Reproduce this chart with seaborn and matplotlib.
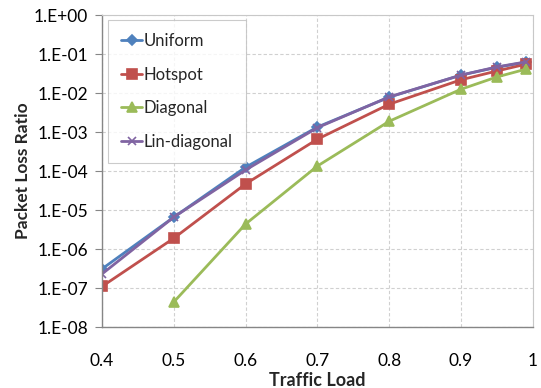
import numpy as np
import pandas as pd
import matplotlib
matplotlib.use("Agg")
import matplotlib.pyplot as plt
from matplotlib.ticker import FuncFormatter, FixedLocator, NullLocator
import seaborn as sns

# ---- data ----
loads = [0.4, 0.5, 0.6, 0.7, 0.8, 0.9, 0.95, 0.99]
uniform = [3.1e-7, 6.6e-6, 1.26e-4, 1.35e-3, 7.9e-3, 2.9e-2, 4.6e-2, 6.2e-2]
hotspot = [1.1e-7, 1.9e-6, 4.7e-5, 6.6e-4, 5.2e-3, 2.2e-2, 3.7e-2, 5.5e-2]
diag_loads = [0.5, 0.6, 0.7, 0.8, 0.9, 0.95, 0.99]
diagonal = [4.4e-8, 4.4e-6, 1.35e-4, 1.9e-3, 1.26e-2, 2.6e-2, 4.1e-2]
lin_diagonal = [2.3e-7, 6.6e-6, 1.07e-4, 1.3e-3, 8.0e-3, 2.9e-2, 4.7e-2, 6.3e-2]

series_names = ["Uniform", "Hotspot", "Diagonal", "Lin-diagonal"]
x_ticks = [0.4, 0.5, 0.6, 0.7, 0.8, 0.9, 1.0]
x_tick_labels = ["0.4", "0.5", "0.6", "0.7", "0.8", "0.9", "1"]
y_ticks = [1e0, 1e-1, 1e-2, 1e-3, 1e-4, 1e-5, 1e-6, 1e-7, 1e-8]

df = pd.concat([
    pd.DataFrame({"load": loads, "ratio": uniform, "series": "Uniform"}),
    pd.DataFrame({"load": loads, "ratio": hotspot, "series": "Hotspot"}),
    pd.DataFrame({"load": diag_loads, "ratio": diagonal, "series": "Diagonal"}),
    pd.DataFrame({"load": loads, "ratio": lin_diagonal, "series": "Lin-diagonal"}),
], ignore_index=True)

sns.set_theme(style="white")
plt.rcParams["font.family"] = ["Lato", "DejaVu Sans"]

palette = {"Uniform": "#4F81BD", "Hotspot": "#C0504D",
           "Diagonal": "#9BBB59", "Lin-diagonal": "#8064A2"}
markers = {"Uniform": "D", "Hotspot": "s", "Diagonal": "^", "Lin-diagonal": "x"}
msizes = {"Uniform": 5, "Hotspot": 6.5, "Diagonal": 6.5, "Lin-diagonal": 6}

fig = plt.figure(figsize=(5.41, 3.88), dpi=100)
ax = fig.add_axes([0.1885, 0.157, 0.7965, 0.804])

for name in series_names:
    sub = df[df["series"] == name]
    sns.lineplot(data=sub, x="load", y="ratio", ax=ax, color=palette[name],
                 marker=markers[name], markersize=msizes[name],
                 markeredgecolor=palette[name], markeredgewidth=1.2,
                 linewidth=2.0, label=name, sort=False)

ax.set_yscale("log")
ax.set_xlim(0.4, 1.0)
ax.set_ylim(1e-8, 1e0)
ax.xaxis.set_major_locator(FixedLocator(x_ticks))
ax.set_xticklabels(x_tick_labels)
ax.yaxis.set_major_locator(FixedLocator(y_ticks))
ax.yaxis.set_minor_locator(NullLocator())


def fmt(v, pos):
    e = int(round(np.log10(v)))
    return "1.E+%02d" % e if e >= 0 else "1.E-%02d" % (-e)


ax.yaxis.set_major_formatter(FuncFormatter(fmt))

ax.grid(True, which="major", color="#D0D0D0", linestyle=(0, (3, 2)), linewidth=0.8)
ax.set_axisbelow(True)
for s in ["left", "bottom"]:
    ax.spines[s].set_color("#868686")
    ax.spines[s].set_linewidth(1.0)
for s in ["top", "right"]:
    ax.spines[s].set_color("#C8C8C8")
    ax.spines[s].set_linewidth(0.8)

ax.tick_params(axis="y", which="major", direction="out", length=5, width=0.8,
               color="#868686", labelsize=12.5, pad=5, left=True)
ax.tick_params(axis="x", which="major", length=0, labelsize=12.5, pad=19)
for lbl in ax.get_xticklabels() + ax.get_yticklabels():
    lbl.set_color("#000000")

ax.set_xlabel("Traffic Load", fontsize=13, fontweight="bold", labelpad=2)
ax.set_ylabel("Packet Loss Ratio", fontsize=12.5, fontweight="bold", labelpad=2)

leg = ax.legend(loc="upper left", bbox_to_anchor=(0.014, 0.985), fontsize=12,
                frameon=True, fancybox=False, edgecolor="#BFBFBF",
                handlelength=1.25, handletextpad=0.1, labelspacing=1.05,
                borderpad=0.8, borderaxespad=0.0)
leg.get_frame().set_linewidth(0.8)

fig.savefig("out.png", dpi=100)
